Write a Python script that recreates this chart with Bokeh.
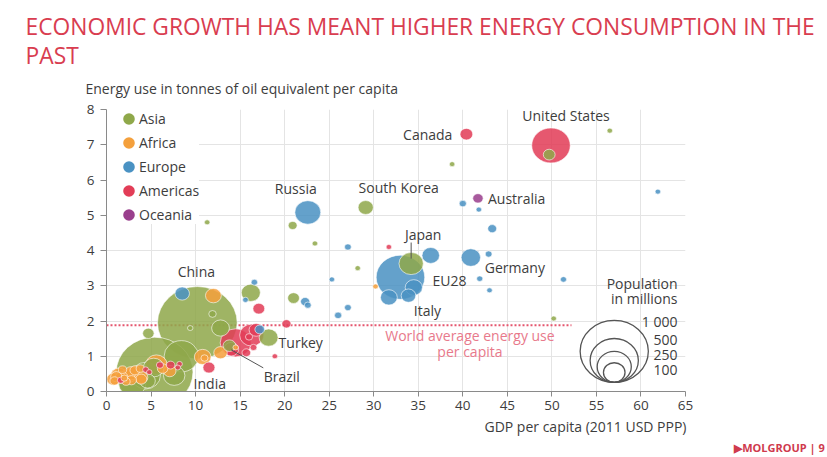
import math
from bokeh.plotting import figure
from bokeh.models import (Range1d, FixedTicker, Legend, LegendItem, Title,
                          BoxAnnotation, ColumnDataSource)
from bokeh.core.properties import value
from bokeh.embed import file_html
from bokeh.resources import INLINE

# ---------------- data ----------------
country = ["China", "India", "EU28", "United States", "Indonesia", "Brazil", "Pakistan",
           "Bangladesh", "Russia", "Japan", "Mexico", "Nigeria", "Philippines", "Vietnam",
           "Germany", "Iran", "Turkey", "Thailand", "France", "United Kingdom", "Italy",
           "Ethiopia", "Egypt", "South Africa", "Myanmar", "South Korea", "Tanzania",
           "Colombia", "Spain", "Kenya", "Ukraine", "Argentina", "DR Congo", "Algeria",
           "Sudan", "Canada", "Iraq", "Uganda", "Morocco", "Peru", "Malaysia",
           "Saudi Arabia", "Venezuela", "Uzbekistan", "Ghana", "Mozambique", "Angola",
           "Australia", "Cameroon", "Cote d'Ivoire", "Romania", "Poland", "Niger", "Chile",
           "Kazakhstan", "Netherlands", "Guatemala", "Ecuador", "Zambia", "Zimbabwe",
           "Senegal", "Cuba", "Belgium", "Tunisia", "Greece", "Bolivia", "Sri Lanka",
           "Haiti", "Czech Republic", "Portugal", "Sweden", "Hungary", "Dominican Rep.",
           "Benin", "Belarus", "Honduras", "Austria", "Switzerland", "Serbia", "Paraguay",
           "Libya", "Denmark", "Nicaragua", "El Salvador", "Turkmenistan", "Finland",
           "Norway", "Slovakia", "Uruguay", "Kyrgyzstan", "Oman", "Kuwait", "Lebanon",
           "Bahrain", "Brunei", "Eq. Guinea", "Trinidad and Tobago"]
region = ["Asia", "Asia", "Europe", "Americas", "Asia", "Americas", "Asia",
          "Asia", "Europe", "Asia", "Americas", "Africa", "Asia", "Asia",
          "Europe", "Asia", "Asia", "Asia", "Europe", "Europe", "Europe",
          "Africa", "Africa", "Africa", "Asia", "Asia", "Africa",
          "Americas", "Europe", "Africa", "Europe", "Americas", "Africa", "Africa",
          "Africa", "Americas", "Asia", "Africa", "Africa", "Americas", "Asia",
          "Asia", "Americas", "Asia", "Africa", "Africa", "Africa",
          "Oceania", "Africa", "Africa", "Europe", "Europe", "Africa", "Americas",
          "Asia", "Europe", "Americas", "Americas", "Africa", "Africa",
          "Africa", "Americas", "Europe", "Africa", "Europe", "Americas", "Asia",
          "Americas", "Europe", "Europe", "Europe", "Europe", "Americas",
          "Africa", "Europe", "Americas", "Europe", "Europe", "Europe", "Americas",
          "Africa", "Europe", "Americas", "Americas", "Asia", "Europe",
          "Europe", "Europe", "Americas", "Asia", "Asia", "Asia", "Asia",
          "Asia", "Asia", "Africa", "Americas"]
gdp = [10.2, 5.4, 33.0, 49.9, 8.4, 14.5, 4.4,
       2.9, 22.6, 34.2, 16.3, 5.6, 7.6, 5.3,
       40.9, 16.2, 18.2, 12.8, 36.4, 34.5, 31.7,
       1.4, 10.8, 12.0, 4.6, 29.1, 2.5,
       14.0, 33.9, 2.8, 8.5, 16.8, 0.8, 12.8,
       3.9, 40.4, 13.8, 1.7, 7.1, 11.5, 21.0,
       49.7, 17.1, 4.7, 3.9, 1.1, 6.3,
       41.7, 2.8, 3.2, 17.2, 22.3, 0.9, 20.2,
       20.9, 43.3, 7.2, 15.7, 3.8, 1.8,
       2.2, 16.0, 40.0, 11.0, 26.0, 6.0, 11.9,
       1.6, 27.1, 27.1, 42.9, 22.6, 16.5,
       2.0, 16.6, 4.4, 41.9, 51.3, 15.6, 8.2,
       14.5, 43.0, 4.8, 8.0, 11.3, 41.8,
       61.9, 25.3, 18.9, 9.4, 23.4, 56.5, 28.2,
       38.8, 50.2, 30.2, 31.7]
energy = [1.95, 0.55, 3.24, 6.98, 1.00, 1.38, 0.45,
          0.22, 5.08, 3.63, 1.60, 0.76, 0.45, 0.68,
          3.80, 2.80, 1.53, 1.80, 3.86, 2.95, 2.67,
          0.45, 0.98, 2.72, 0.30, 5.22, 0.45,
          1.20, 2.72, 0.52, 2.78, 1.75, 0.35, 1.10,
          0.40, 7.30, 1.30, 0.40, 0.58, 0.68, 2.65,
          6.72, 2.35, 1.65, 0.35, 0.42, 0.65,
          5.48, 0.32, 0.60, 1.76, 2.55, 0.30, 1.92,
          4.71, 4.62, 0.75, 1.10, 0.65, 0.62,
          0.28, 1.55, 5.33, 0.95, 2.16, 0.75, 2.20,
          0.32, 4.10, 2.38, 3.90, 2.45, 1.25,
          0.38, 3.10, 0.62, 3.20, 3.18, 2.60, 0.78,
          1.25, 2.87, 0.55, 0.68, 4.80, 5.16,
          5.67, 3.18, 1.00, 1.80, 4.20, 7.40, 3.50,
          6.45, 2.07, 2.98, 4.10]
population = [1364, 1267, 507, 319, 255, 206, 185,
              159, 144, 127, 125, 100, 99, 91,
              81, 78, 77, 68, 66, 64, 61,
              60, 60, 54, 53, 50, 50,
              48, 46, 45, 45, 43, 40, 39,
              38, 35, 35, 35, 34, 31, 30,
              30, 30, 28, 27, 27, 24,
              23, 22, 22, 20, 18, 18, 18,
              17, 17, 16, 16, 15, 15,
              14, 11, 11, 11, 11, 11, 12,
              10, 10, 10, 10, 10, 10,
              10, 9, 8, 8, 8, 7, 7,
              6, 6, 6, 6, 5, 5,
              5, 5, 3, 4, 4, 4, 3,
              2, 2, 2, 1]

regions_order = ["Asia", "Africa", "Europe", "Americas", "Oceania"]
region_colors = ["#8fa84a", "#f4a03c", "#4a92c3", "#e23d57", "#9a3f8d"]

x_ticks = [0, 5, 10, 15, 20, 25, 30, 35, 40, 45, 50, 55, 60, 65]
y_ticks = [0, 1, 2, 3, 4, 5, 6, 7, 8]

world_average = 1.88
world_average_end = 52.2

pop_legend_values = [1000, 500, 250, 100]
pop_legend_labels = ["1 000", "500", "250", "100"]

# labelled countries: (dx px, dy px, align)
label_style = {
    "United States": (15, -30, "center"),
    "Canada": (-14, 0, "right"),
    "South Korea": (33, -20, "center"),
    "Australia": (10, 0, "left"),
    "Russia": (-12, -24, "center"),
    "Japan": (12, -29, "center"),
    "Germany": (14, 10, "left"),
    "EU28": (32, 3, "left"),
    "Italy": (25, 13, "left"),
    "China": (-1, -51, "center"),
    "Turkey": (10, 5, "left"),
    "Brazil": (28, 34, "left"),
    "India": (39, 11, "left"),
}

# ---------------- layout ----------------
W, H = 827, 457
FRAME_L, FRAME_T, FRAME_W, FRAME_H = 106, 109, 579, 282
FRAME_B = FRAME_T + FRAME_H
X0, X1 = 0.0, 65.0
Y0, Y1 = 0.0, 8.0
PXX = FRAME_W / (X1 - X0)
PXY = FRAME_H / (Y1 - Y0)
D1000 = 62.0      # bubble height in px for 1000 million
ASPECT = 1.1
MIN_D = 5.0

FONT = "Open Sans"
TXT = "#3d3d3d"
TITLE_RED = "#d93d50"


def bubble_hw(pop):
    hpx = max(D1000 * math.sqrt(pop / 1000.0), MIN_D)
    return hpx / PXY, hpx * ASPECT / PXX


p = figure(width=W, height=H, x_range=Range1d(X0, X1), y_range=Range1d(Y0, Y1),
           min_border_left=FRAME_L, min_border_top=FRAME_T,
           min_border_right=W - FRAME_L - FRAME_W, min_border_bottom=H - FRAME_B,
           output_backend="svg", toolbar_location=None, outline_line_color=None,
           background_fill_color="white", border_fill_color="white")

# axes
for ax in (p.xaxis, p.yaxis):
    ax.axis_line_color = "#8a8a8a"
    ax.major_tick_line_color = "#8a8a8a"
    ax.minor_tick_line_color = None
    ax.major_tick_in = 0
    ax.major_label_text_font = FONT
    ax.major_label_text_font_size = "13.5px"
    ax.major_label_text_color = TXT
p.xaxis.ticker = FixedTicker(ticks=x_ticks)
p.yaxis.ticker = FixedTicker(ticks=y_ticks)
p.xaxis.major_tick_out = 5
p.yaxis.major_tick_out = 6
p.xaxis.major_label_standoff = 4
p.yaxis.major_label_standoff = 6

p.xgrid.ticker = FixedTicker(ticks=x_ticks[1:-1])
p.ygrid.ticker = FixedTicker(ticks=y_ticks[1:-1])
p.grid.grid_line_color = "#e4e4e4"
p.grid.grid_line_width = 1

# white area behind the region legend
p.add_layout(BoxAnnotation(left=X0, right=9.6, top=Y1, bottom=4.75,
                           fill_color="white", fill_alpha=1.0, line_color=None,
                           level="underlay"))

# world average line
p.line(x=[x_ticks[0], world_average_end], y=[world_average, world_average],
       line_color="#e5566e", line_width=2, line_dash="2 2")

# bubbles, largest first
cmap = dict(zip(regions_order, region_colors))
order = sorted(range(len(country)), key=lambda i: -population[i])
hs, ws = zip(*[bubble_hw(population[i]) for i in order])
src = ColumnDataSource(dict(
    x=[gdp[i] for i in order], y=[energy[i] for i in order],
    h=list(hs), w=list(ws), color=[cmap[region[i]] for i in order]))
p.ellipse(x="x", y="y", width="w", height="h", source=src,
          fill_color="color", fill_alpha=0.86, line_color="white",
          line_alpha=0.75, line_width=0.8)

# leader lines
idx = {c: i for i, c in enumerate(country)}
jx, jy = gdp[idx["Japan"]], energy[idx["Japan"]]
bx, by = gdp[idx["Brazil"]], energy[idx["Brazil"]]
p.segment(x0=[jx, bx - 0.5], y0=[jy + 5 / PXY, by - 7 / PXY],
          x1=[jx, bx + 3.1], y1=[jy + 21 / PXY, by - 25 / PXY],
          line_color="#555555", line_width=1)

# country labels
for align in ("left", "center", "right"):
    names = [c for c, s in label_style.items() if s[2] == align]
    p.text(x=[gdp[idx[c]] for c in names], y=[energy[idx[c]] for c in names],
           text=names, x_offset=[label_style[c][0] for c in names],
           y_offset=[label_style[c][1] for c in names],
           text_align=align, text_baseline="middle",
           text_font=value(FONT), text_font_size="14px", text_color=TXT)

# world average text
p.text(x=[40.8, 40.8], y=[world_average, world_average],
       text=["World average energy use", "per capita"], y_offset=[10, 26],
       text_align="center", text_baseline="middle", text_font=value(FONT),
       text_font_size="14px", text_color="#e8798b")

# population legend
LEG_X = 57.0
LEG_BASE = 0.26
lh = [bubble_hw(v)[0] for v in pop_legend_values]
lw = [bubble_hw(v)[1] for v in pop_legend_values]
p.ellipse(x=[LEG_X] * 4, y=[LEG_BASE + h / 2 for h in lh], width=lw, height=lh,
          fill_color=None, line_color="#555555", line_width=1.3)
p.text(x=[64.1] * 4, y=[1.99, 1.45, 1.03, 0.62], text=pop_legend_labels,
       text_align="right", text_baseline="middle", text_font=value(FONT),
       text_font_size="14px", text_color=TXT)
p.text(x=[64.1, 64.1], y=[3.06, 2.64], text=["Population", "in millions"],
       text_align="right", text_baseline="middle", text_font=value(FONT),
       text_font_size="14px", text_color=TXT)

# region legend (dummy renderers placed outside the visible range)
items = []
for r, c in zip(regions_order, region_colors):
    d = p.scatter(x=[-50], y=[-50], marker="circle", size=1, fill_color=c,
                  line_color=c, line_width=4)
    items.append(LegendItem(label=r, renderers=[d]))
legend = Legend(items=items, location=(13, 167), margin=0, padding=0, spacing=5,
                glyph_width=19, glyph_height=19, label_height=19, label_standoff=1,
                label_text_font=FONT, label_text_font_size="14px",
                label_text_color=TXT, background_fill_color="white",
                background_fill_alpha=1.0, border_line_color=None)
p.add_layout(legend)

# texts outside the frame, as titles (innermost first; p.title ends outermost)
p.add_layout(Title(text="Energy use in tonnes of oil equivalent per capita",
                   align="left", offset=85 - FRAME_L, text_font=FONT,
                   text_font_size="14px", text_font_style="normal",
                   text_color=TXT, standoff=23), "above")
p.title.text = "ECONOMIC GROWTH HAS MEANT HIGHER ENERGY CONSUMPTION IN THE\nPAST"
p.title.align = "left"
p.title.offset = 25 - FRAME_L
p.title.text_font = FONT
p.title.text_font_size = "22.8px"
p.title.text_font_style = "normal"
p.title.text_color = TITLE_RED
p.title.text_line_height = 0.95
p.title.standoff = -12

p.add_layout(Title(text="GDP per capita (2011 USD PPP)", align="right", offset=-1,
                   text_font=FONT, text_font_size="14px", text_font_style="normal",
                   text_color=TXT, standoff=4), "below")
p.add_layout(Title(text="\u25B6MOLGROUP  |  9", align="right", offset=-145,
                   text_font=FONT, text_font_size="11px", text_font_style="bold",
                   text_color="#cf3a4d", standoff=0), "below")

open("out.html", "w").write(file_html(p, INLINE))
